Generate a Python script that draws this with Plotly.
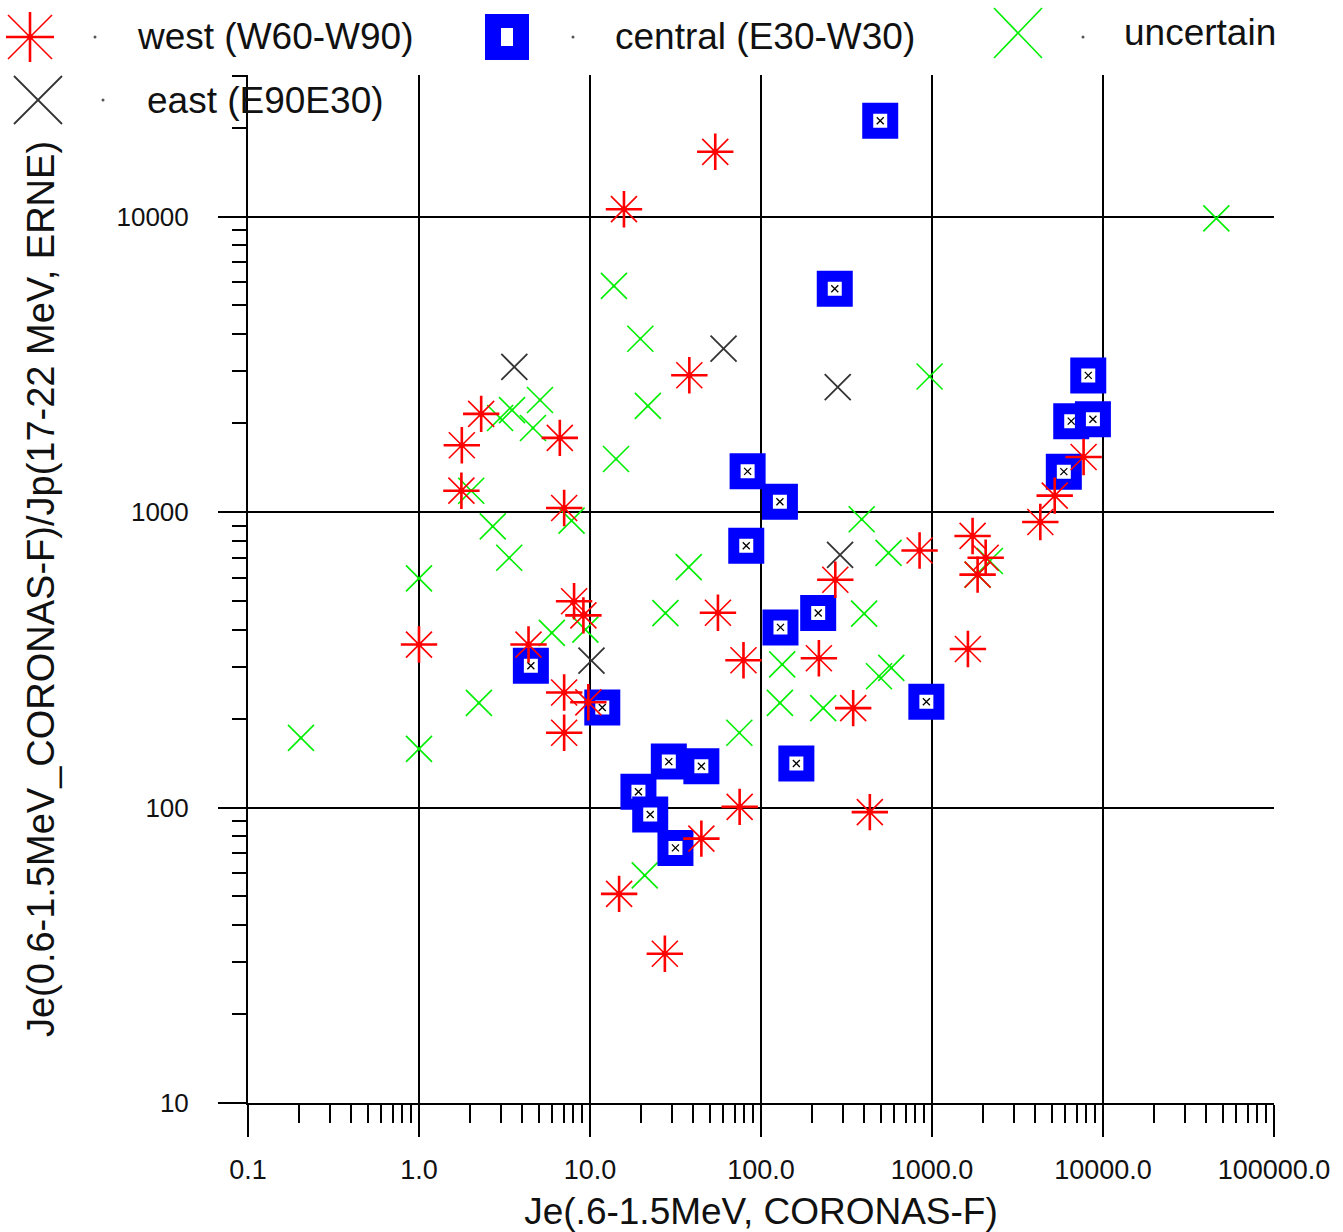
import plotly.graph_objects as go

# ---------------- data ----------------
west_x = [54, 15.8, 38.1, 2.31, 1.78, 6.66, 1.77, 7.06, 1.0, 8.07, 9.15, 4.37, 7.06, 9.78, 7.06,
          14.8, 27.4, 44.8, 75, 433, 56, 79, 218, 346, 272, 846, 1727, 2060, 1848, 1622, 4300, 5220, 7700]
west_y = [16560, 10590, 2904, 2148, 1683, 1782, 1181, 1032, 356, 499, 447, 356, 245, 227, 179,
          51, 32, 78.5, 100.5, 96.5, 456, 315, 320, 217, 590, 741, 830, 700, 614, 344, 925, 1136, 1535]

central_x = [498, 270, 8200, 6520, 8730, 5900, 83.5, 129, 82, 216, 130, 4.51, 11.8, 927, 161,
             28.9, 44.8, 19.2, 22.5, 31.6]
central_y = [21100, 5700, 2900, 2030, 2060, 1370, 1373, 1083, 769, 455, 407, 302, 218, 228, 141,
             143, 138, 113, 94.7, 73]

uncertain_x = [46000, 968, 13.8, 19.7, 21.8, 14.2, 2.98, 3.50, 5.1, 4.64, 2.02, 2.70, 3.37, 7.8,
               1.0, 1.0, 0.204, 2.24, 5.98, 9.4, 27.6, 37.8, 74.7, 20.9, 133, 129, 231, 388, 557,
               401, 578, 490, 2180, 1848]
uncertain_y = [9860, 2876, 5825, 3860, 2286, 1512, 2080, 2213, 2393, 1924, 1180, 894, 700, 935,
               596, 158, 172, 226, 390, 400, 455, 651, 179, 58.9, 305, 226, 217, 945, 727,
               453, 297, 278, 683, 614]

east_x = [3.61, 60.4, 281, 290, 10.2]
east_y = [3097, 3570, 2648, 716, 314]

x_tickvals = [0.1, 1, 10, 100, 1000, 10000, 100000]
x_ticktext = ["0.1", "1.0", "10.0", "100.0", "1000.0", "10000.0", "100000.0"]
y_tickvals = [10, 100, 1000, 10000]
y_ticktext = ["10", "100", "1000", "10000"]

legend_names = ["west (W60-W90)", "central (E30-W30)", "uncertain", "east (E90E30)"]

# ---------------- styles ----------------
RED = "#ff0000"
BLUE = "#0000ff"
GREEN = "#00ee00"
DARK = "#333333"
FONT = "Liberation Sans, Arial, sans-serif"

W, H = 1343, 1232
ML, MR, MT, MB = 248, 69, 75, 129
PW, PH = W - ML - MR, H - MT - MB

x_minor = [k * 10 ** e for e in range(-1, 5) for k in range(2, 10)]
y_minor = [k * 10 ** e for e in range(1, 5) for k in range(2, 10) if k * 10 ** e < 30200]

fig = go.Figure()


def add(x, y, marker):
    fig.add_trace(go.Scatter(x=x, y=y, mode="markers", marker=marker, showlegend=False,
                             hoverinfo="skip"))


# uncertain (green X)
add(uncertain_x, uncertain_y, dict(symbol="x-thin-open", size=26, color=GREEN,
                                   line=dict(color=GREEN, width=1.6)))
add(uncertain_x, uncertain_y, dict(symbol="circle", size=3, color=GREEN, line=dict(width=0)))
# central (blue squares)
add(central_x, central_y, dict(symbol="square", size=25, color="white",
                               line=dict(color=BLUE, width=11)))
add(central_x, central_y, dict(symbol="x-thin-open", size=7, color="black",
                               line=dict(color="black", width=1.3)))
# east (dark X)
add(east_x, east_y, dict(symbol="x-thin-open", size=26, color=DARK,
                         line=dict(color=DARK, width=1.8)))
# west (red asterisk)
add(west_x, west_y, dict(symbol="x-thin-open", size=26, color=RED, line=dict(color=RED, width=1.6)))
add(west_x, west_y, dict(symbol="cross-thin-open", size=26, color=RED, line=dict(color=RED, width=2.6)))
add(west_x, west_y, dict(symbol="circle", size=6, color=RED, line=dict(width=0)))

# ---------------- custom legend (shapes anchored in paper space, sized in pixels) -------------
leg_key_px = [(30, 37), (507, 37), (1018, 33), (38, 100)]
leg_dot_px = [(95, 37), (573, 37), (1083, 37), (103, 100)]
leg_text_px = [(135, 37), (613, 37), (1122, 33), (145, 100)]


def px2paper(px, py):
    return (px - ML) / PW, (H - MB - py) / PH


shapes = []


def pshape(anchor, kind, x0, y0, x1, y1, line=None, fill=None):
    ax, ay = px2paper(*anchor)
    s = dict(type=kind, xref="paper", yref="paper", xsizemode="pixel", ysizemode="pixel",
             xanchor=ax, yanchor=ay, x0=x0, y0=y0, x1=x1, y1=y1, layer="above")
    s["line"] = line if line else dict(width=0)
    if fill:
        s["fillcolor"] = fill
    shapes.append(s)


# west key: asterisk
k = leg_key_px[0]
pshape(k, "line", 0, -25, 0, 25, dict(color=RED, width=2.6))
pshape(k, "line", -24, 0, 24, 0, dict(color=RED, width=2.6))
pshape(k, "line", -22, -22, 22, 22, dict(color=RED, width=1.6))
pshape(k, "line", -22, 22, 22, -22, dict(color=RED, width=1.6))
pshape(k, "circle", -3, -3, 3, 3, fill=RED)
# central key: blue square with white core
k = leg_key_px[1]
pshape(k, "rect", -22, -23, 22, 23, fill=BLUE)
pshape(k, "rect", -6, -9, 6, 9, fill="white")
# uncertain key: green X
k = leg_key_px[2]
pshape(k, "line", -24, -25, 24, 25, dict(color=GREEN, width=1.6))
pshape(k, "line", -24, 25, 24, -25, dict(color=GREEN, width=1.6))
# east key: dark X
k = leg_key_px[3]
pshape(k, "line", -24, -24, 24, 24, dict(color=DARK, width=1.8))
pshape(k, "line", -24, 24, 24, -24, dict(color=DARK, width=1.8))
for d in leg_dot_px:
    pshape(d, "circle", -1.5, -1.5, 1.5, 1.5, fill="#555555")

annotations = []
for name, (tx, ty) in zip(legend_names, leg_text_px):
    ax, ay = px2paper(tx, ty)
    annotations.append(dict(text=name, x=ax, y=ay, xref="paper", yref="paper", xanchor="left",
                            yanchor="middle", showarrow=False,
                            font=dict(family=FONT, size=37, color="#111111")))

axis_common = dict(showline=True, linewidth=2, linecolor="black", showgrid=True,
                   gridcolor="black", gridwidth=2, ticks="outside", tickwidth=2,
                   tickcolor="black", zeroline=False, automargin=False)

fig.update_layout(
    width=W, height=H,
    margin=dict(l=ML, r=MR, t=MT, b=MB, pad=0),
    paper_bgcolor="white", plot_bgcolor="white",
    font=dict(family=FONT, color="#111111"),
    annotations=annotations,
    shapes=shapes,
    xaxis=dict(type="log", range=[-1, 5], tickvals=x_tickvals, ticktext=x_ticktext,
               ticklen=32, ticklabelstandoff=10,
               tickfont=dict(family=FONT, size=27, color="#111111"),
               minor=dict(tickvals=x_minor, ticks="outside", ticklen=18, tickwidth=1.5,
                          tickcolor="black", showgrid=False),
               title=dict(text="Je(.6-1.5MeV, CORONAS-F)", standoff=16,
                          font=dict(family=FONT, size=37, color="#111111")),
               **axis_common),
    yaxis=dict(type="log", range=[1, 4.479], tickvals=y_tickvals, ticktext=y_ticktext,
               ticklen=28, ticklabelstandoff=24,
               tickfont=dict(family=FONT, size=26, color="#111111"),
               minor=dict(tickvals=y_minor, ticks="outside", ticklen=14, tickwidth=1.5,
                          tickcolor="black", showgrid=False),
               title=dict(text="Je(0.6-1.5MeV_CORONAS-F)/Jp(17-22 MeV, ERNE)", standoff=50,
                          font=dict(family=FONT, size=38, color="#111111")),
               **axis_common),
)

fig.write_html("out.html")
